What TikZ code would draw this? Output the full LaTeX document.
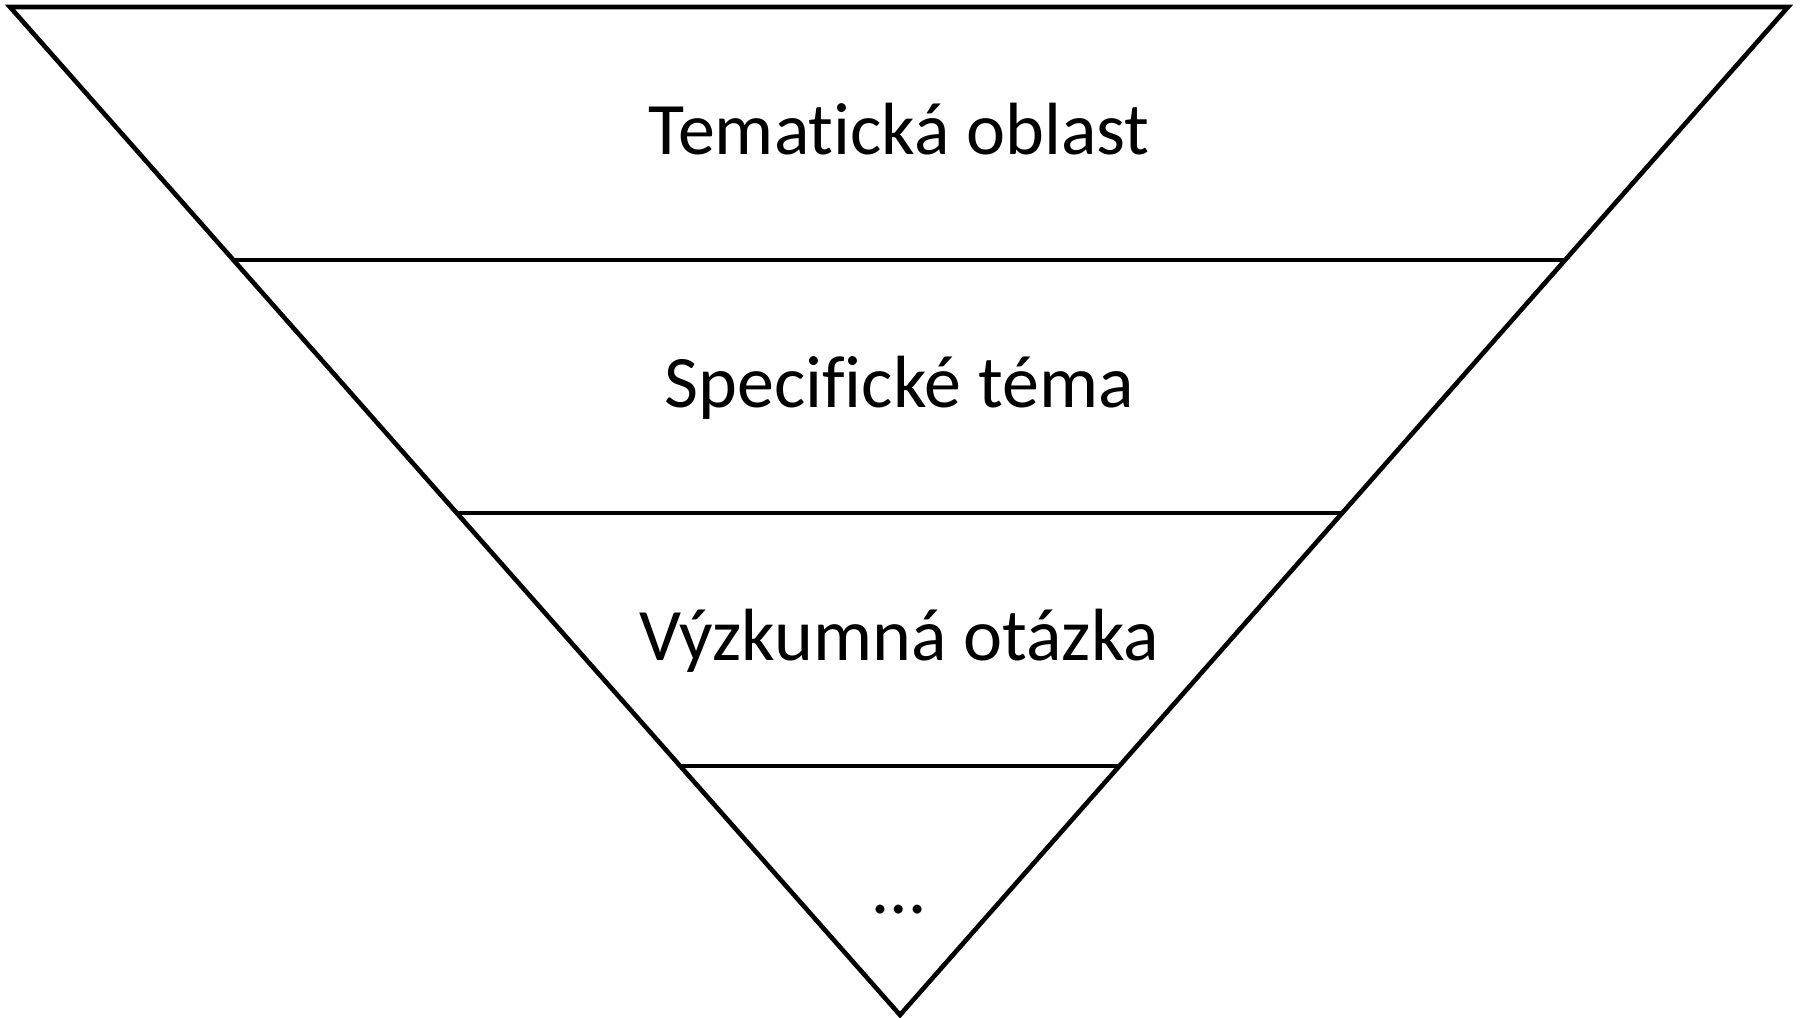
\documentclass[tikz,border=0pt]{standalone}
\usepackage{fontspec}
\setmainfont{Carlito}[Ligatures={NoCommon,NoRequired,NoContextual,NoDiscretionary}]
\newcommand\nolig{\kern0pt }
\begin{document}
\begin{tikzpicture}[x=1pt,y=-1pt,
  edge/.style={line width=4.6pt,line join=miter},
  label/.style={font=\fontsize{74}{80}\selectfont,anchor=base,inner sep=0pt}]
\useasboundingbox (0,0) rectangle (1803,1017);
\coordinate (tl) at (10,7);
\coordinate (tr) at (1788,7);
\coordinate (ap) at (900,1015);
\draw[edge] (tl) -- (tr) -- (ap) -- cycle;
\path (tl) -- (ap) coordinate[pos=0.251] (l1) coordinate[pos=0.502] (l2) coordinate[pos=0.753] (l3);
\path (tr) -- (ap) coordinate[pos=0.251] (r1) coordinate[pos=0.502] (r2) coordinate[pos=0.753] (r3);
\draw[edge] (l1) -- (r1);
\draw[edge] (l2) -- (r2);
\draw[edge] (l3) -- (r3);
\node[label] (t1) at (899,154) {Temat\nolig ická oblast};
\node[label] (t2) at (899,407) {Specif\nolig ické téma};
\node[label] (t3) at (899,660) {Výzkumná otázka};
\node[label] (t4) at (899,913) {…};
\end{tikzpicture}
\end{document}
